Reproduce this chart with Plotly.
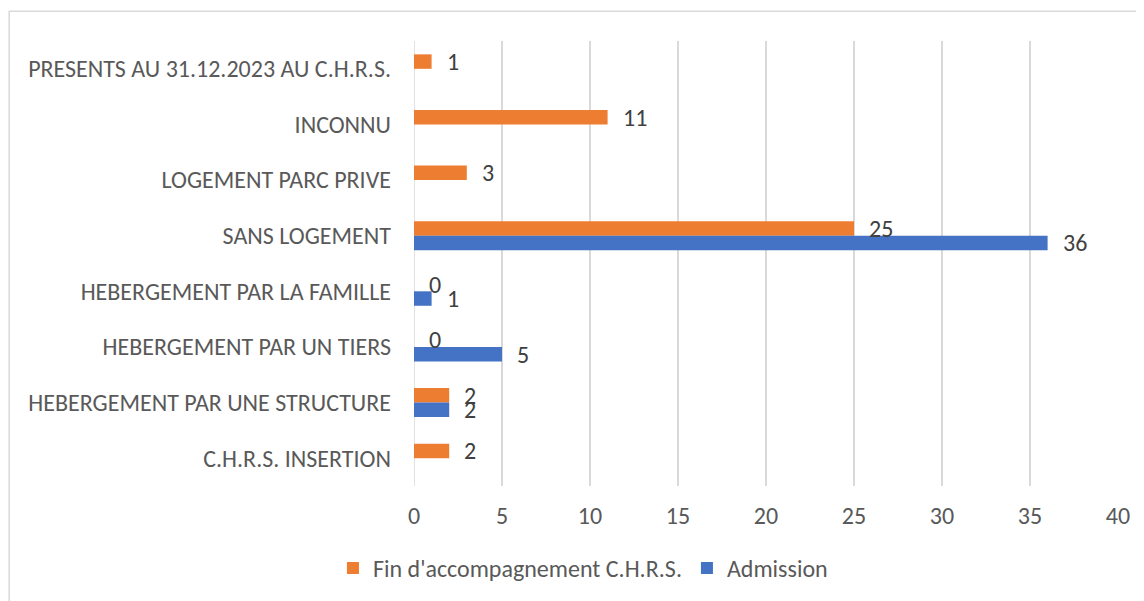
import plotly.graph_objects as go

categories = [
    "C.H.R.S. INSERTION",
    "HEBERGEMENT PAR UNE STRUCTURE",
    "HEBERGEMENT PAR UN TIERS",
    "HEBERGEMENT PAR LA FAMILLE",
    "SANS LOGEMENT",
    "LOGEMENT PARC PRIVE",
    "INCONNU",
    "PRESENTS AU 31.12.2023 AU C.H.R.S.",
]
fin_values = [2, 2, 0, 0, 25, 3, 11, 1]
admission_values = [None, 2, 5, 1, 36, None, None, None]
x_ticks = [0, 5, 10, 15, 20, 25, 30, 35, 40]

ORANGE = "#ED7D31"
BLUE = "#4472C4"
FONT = "Carlito, Lato, sans-serif"
FS = 24

idx = list(range(len(categories)))
off = 0.13
bar_w = 0.26

fig = go.Figure()
fig.add_trace(go.Bar(
    name="Fin d'accompagnement C.H.R.S.", orientation="h",
    x=fin_values, y=[i + off for i in idx], width=bar_w,
    marker=dict(color=ORANGE, line=dict(width=0)),
))
fig.add_trace(go.Bar(
    name="Admission", orientation="h",
    x=admission_values, y=[i - off for i in idx], width=bar_w,
    marker=dict(color=BLUE, line=dict(width=0)),
))

# data labels
for vals, shift in ((fin_values, off), (admission_values, -off)):
    for i, v in zip(idx, vals):
        if v is None:
            continue
        fig.add_annotation(x=v, y=i + shift, text=str(v), showarrow=False,
                           xanchor="left", yanchor="middle", xshift=13,
                           font=dict(size=FS, color="#404040", family=FONT))

# outer chart border (left and top edges visible)
fig.add_shape(type="path", xref="paper", yref="paper",
              path="M -0.575,-0.4 L -0.575,1.067 L 1.1,1.067",
              line=dict(color="#D9D9D9", width=1.5))

fig.update_layout(
    width=1144, height=601,
    margin=dict(l=406, r=34, t=33, b=123),
    paper_bgcolor="white", plot_bgcolor="white",
    font=dict(family=FONT, size=FS, color="#595959"),
    barmode="overlay",
    showlegend=True,
    legend=dict(orientation="h", x=0.24, y=-0.185, xanchor="center", yanchor="middle",
                font=dict(size=FS, color="#595959"), traceorder="normal"),
    xaxis=dict(range=[0, 40], tickvals=x_ticks, showgrid=True, gridcolor="#D9D9D9",
               gridwidth=1.5, zeroline=False, showline=False, ticks="",
               ticklabelstandoff=13, tickfont=dict(size=FS, color="#595959")),
    yaxis=dict(range=[-0.5, 7.5], tickvals=idx, ticktext=categories, showgrid=False,
               zeroline=False, showline=False, ticks="", ticklabelstandoff=22,
               tickfont=dict(size=FS, color="#595959")),
)
fig.add_vline(x=0, line=dict(color="#D9D9D9", width=1.5), layer="below")

fig.write_html("out.html")
